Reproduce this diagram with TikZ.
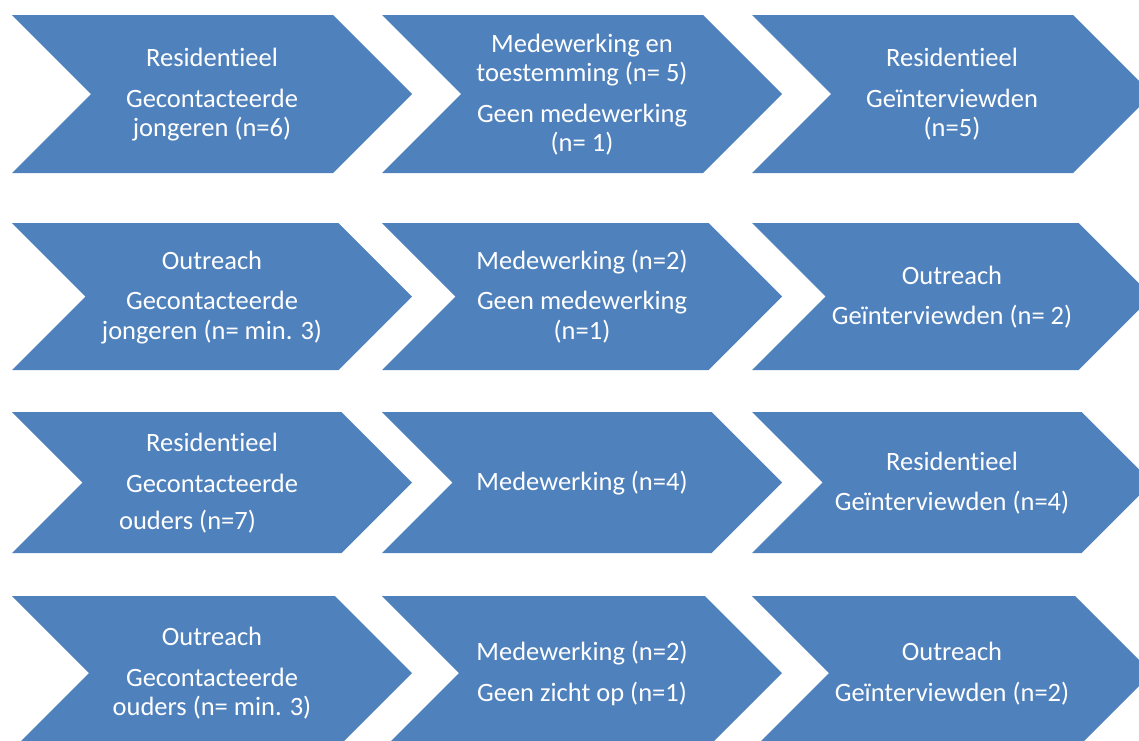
\documentclass[tikz,border=0pt]{standalone}
\usepackage{fontspec}
\setmainfont{Carlito}[Ligatures=NoCommon]
\definecolor{chevblue}{HTML}{4F81BD}
\tikzset{
  chevron/.style={fill=chevblue},
  chevlabel/.style={text=white, align=center, inner sep=0pt,
    font=\fontsize{26.5}{29.5}\selectfont},
}
% chevron: left x, top y, bottom y, label node name, label text
\newcommand\chevronbox[5]{%
  \pgfmathsetmacro\hh{(#3-#2)/2}
  \fill[chevron] (#1,#2) -- ({#1+400-\hh},#2) -- ({#1+400},{#2+\hh})
    -- ({#1+400-\hh},#3) -- (#1,#3) -- ({#1+\hh},{#2+\hh}) -- cycle;
  \node[chevlabel] (#4) at ({#1+200},{#2+\hh+2}) {\strut#5\strut};
}
\begin{document}
\begin{tikzpicture}[x=1pt,y=-1pt]
\useasboundingbox (0,0) rectangle (1139,740);
\clip (0,0) rectangle (1139,740);

% row 1: residential youth
\chevronbox{12}{15}{173}{r1a}{Residentieel\\[11pt]Gecontacteerde\\jongeren (n=6)}
\chevronbox{382}{15}{173}{r1b}{Medewerking en\\toestemming (n= 5)\\[11pt]Geen medewerking\\(n= 1)}
\chevronbox{752}{15}{173}{r1c}{Residentieel\\[11pt]Geïnterviewden\\(n=5)}

% row 2: outreach youth
\chevronbox{12}{223}{370}{r2a}{Outreach\\[11pt]Gecontacteerde\\jongeren (n= min. 3)}
\chevronbox{382}{223}{370}{r2b}{Medewerking (n=2)\\[11pt]Geen medewerking\\(n=1)}
\chevronbox{752}{223}{370}{r2c}{Outreach\\[11pt]Geïnterviewden (n= 2)}

% row 3: residential parents
\chevronbox{12}{412}{553}{r3a}{Residentieel\\[11pt]Gecontacteerde\\[7.5pt]ouders (n=7)\hspace*{49pt}}
\chevronbox{382}{412}{553}{r3b}{Medewerking (n=4)}
\chevronbox{752}{412}{553}{r3c}{Residentieel\\[11pt]Geïnterviewden (n=4)}

% row 4: outreach parents
\chevronbox{12}{596}{750}{r4a}{Outreach\\[11pt]Gecontacteerde\\ouders (n= min. 3)}
\chevronbox{382}{596}{750}{r4b}{Medewerking (n=2)\\[11pt]Geen zicht op (n=1)}
\chevronbox{752}{596}{750}{r4c}{Outreach\\[11pt]Geïnterviewden (n=2)}
\end{tikzpicture}
\end{document}
